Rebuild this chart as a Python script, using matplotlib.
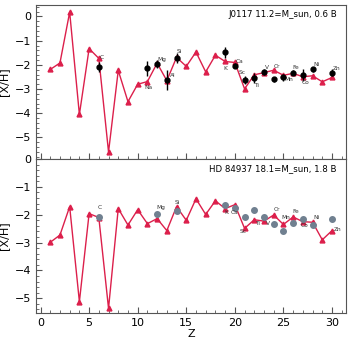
import numpy as np
import matplotlib
matplotlib.use("Agg")
import matplotlib.pyplot as plt
from matplotlib.ticker import AutoMinorLocator, MultipleLocator

# atomic numbers for the model curves
z_model = list(range(1, 31))

# top star: J0117, model yields and observed abundances
top_model = [-2.19, -1.92, 0.18, -4.05, -1.33, -1.73, -5.60, -2.23, -3.52, -2.80,
             -2.69, -1.93, -2.65, -1.69, -2.06, -1.47, -2.29, -1.60, -1.86, -1.90,
             -2.99, -2.41, -2.32, -2.22, -2.43, -2.35, -2.49, -2.45, -2.70, -2.52]
top_obs_z = [6, 11, 12, 13, 14, 19, 20, 21, 22, 23, 24, 25, 26, 27, 28, 30]
top_obs = [-2.08, -2.14, -1.96, -2.63, -1.71, -1.48, -2.03, -2.62, -2.55, -2.30,
           -2.59, -2.51, -2.32, -2.40, -2.19, -2.32]
top_err = [0.20, 0.30, 0.15, 0.40, 0.22, 0.22, 0.10, 0.15, 0.20, 0.12,
           0.10, 0.15, 0.10, 0.25, 0.10, 0.15]
top_names = ["C", "Na", "Mg", "Al", "Si", "K", "Ca", "Sc", "Ti", "V",
             "Cr", "Mn", "Fe", "Co", "Ni", "Zn"]
top_title = "J0117 11.2=M_sun, 0.6 B"

# bottom star: HD 84937
bot_model = [-2.99, -2.73, -1.71, -5.12, -1.96, -2.10, -5.36, -1.78, -2.37, -1.82,
             -2.32, -2.14, -2.57, -1.71, -2.20, -1.43, -1.99, -1.50, -1.78, -1.64,
             -2.49, -2.18, -2.23, -2.01, -2.35, -2.08, -2.25, -2.27, -2.90, -2.57]
bot_obs_z = [6, 12, 14, 19, 20, 21, 22, 23, 24, 25, 26, 27, 28, 30]
bot_obs = [-2.07, -1.97, -1.88, -1.65, -1.77, -2.08, -1.82, -2.07, -2.32, -2.58,
           -2.31, -2.15, -2.37, -2.15]
bot_names = ["C", "Mg", "Si", "K", "Ca", "Sc", "Ti", "V", "Cr", "Mn",
             "Fe", "Co", "Ni", "Zn"]
bot_title = "HD 84937 18.1=M_sun, 1.8 B"

# label offsets in pixels from the observed point
top_off = [(3, 9), (1.5, -19), (5, 4), (6, 5), (3, 6), (0.5, -16.5), (5, 4), (-2, 7.5),
           (2.5, -7.5), (3, 4.5), (3, 13), (5, -2.5), (2.5, 5), (3, -7.5), (3.5, 4.5), (4.5, 4)]
bot_off = [(1, 9.5), (4, 6), (1, 8.5), (1, -7.7), (0, -4.4), (-1, -14.7), (3, -13.6),
           (4, -6.6), (3, 13.7), (2, 13.3), (2.7, 11.6), (1.6, -7), (3.6, 7.3), (5.4, -10.3)]

red = "#dc1f4b"
spine_col = "#555555"

fig, (ax1, ax2) = plt.subplots(2, 1, figsize=(3.51, 3.43), dpi=100, sharex=True)
fig.subplots_adjust(left=0.103, right=0.986, top=0.985, bottom=0.088, hspace=0)

for ax in (ax1, ax2):
    for s in ax.spines.values():
        s.set_color(spine_col)
    ax.tick_params(direction="in", which="both", colors=spine_col, labelcolor="black",
                   labelsize=8, top=False, right=False)
    ax.tick_params(which="major", length=4)
    ax.tick_params(which="minor", length=2)
    ax.xaxis.set_major_locator(MultipleLocator(5))
    ax.xaxis.set_minor_locator(AutoMinorLocator())
    ax.yaxis.set_major_locator(MultipleLocator(1))
    ax.yaxis.set_minor_locator(AutoMinorLocator())
    ax.set_ylabel("[X/H]", fontsize=8)

# top panel
ax1.plot(z_model, top_model, "-^", color=red, lw=1, ms=3.5, zorder=2)
ax1.errorbar(top_obs_z, top_obs, yerr=top_err, fmt="o", color="black", ms=3.5,
             elinewidth=1, capsize=0, zorder=3)
for z, v, name, off in zip(top_obs_z, top_obs, top_names, top_off):
    ax1.annotate(name, (z, v), xytext=off, textcoords="offset pixels",
                 ha="center", va="center", fontsize=4.2, color="#333333")
ax1.text(0.97, 0.94, top_title, transform=ax1.transAxes, ha="right", va="center", fontsize=6.2)

# bottom panel
ax2.plot(z_model, bot_model, "-^", color=red, lw=1, ms=3.5, zorder=2)
ax2.plot(bot_obs_z, bot_obs, "o", color="#708090", ms=4, zorder=3)
for z, v, name, off in zip(bot_obs_z, bot_obs, bot_names, bot_off):
    ax2.annotate(name, (z, v), xytext=off, textcoords="offset pixels",
                 ha="center", va="center", fontsize=4.2, color="#333333")
ax2.text(0.97, 0.94, bot_title, transform=ax2.transAxes, ha="right", va="center", fontsize=6.2)
ax2.set_ylim(-5.52, 0.0)
ax2.set_xlabel("Z", fontsize=8, labelpad=1)

plt.savefig("out.png", dpi=100)
